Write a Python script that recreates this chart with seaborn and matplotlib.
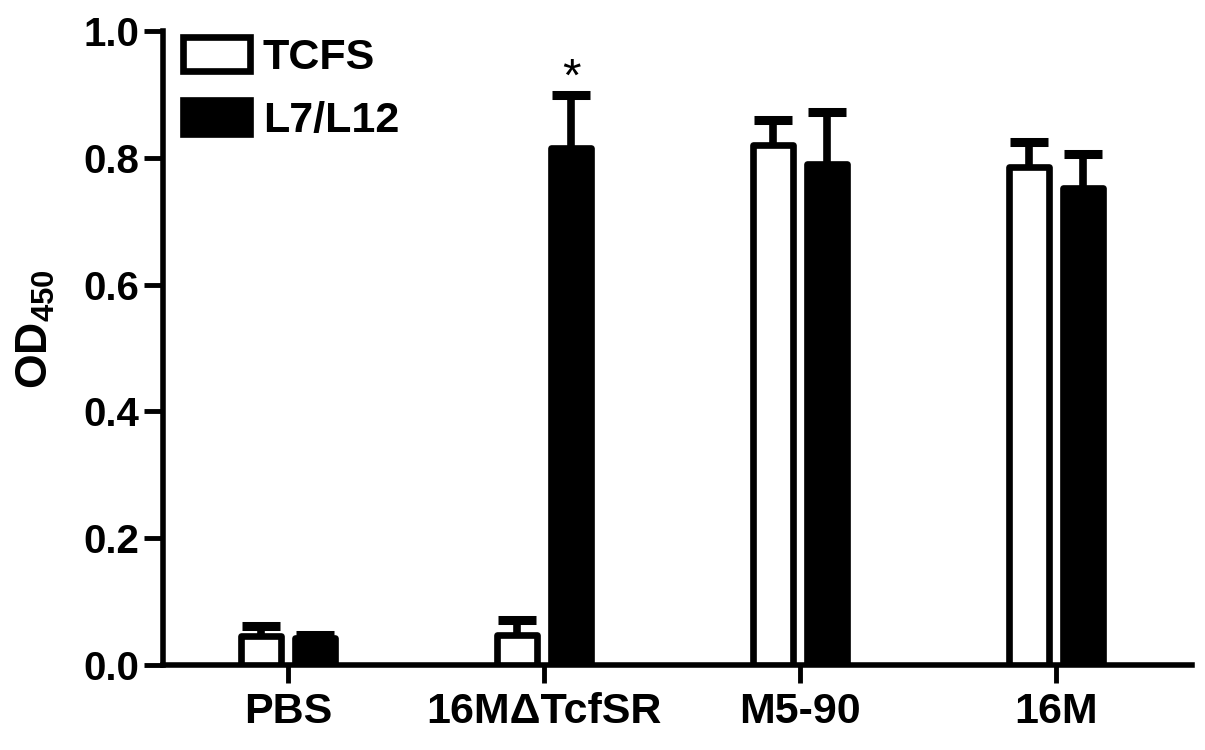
import pandas as pd
import matplotlib.pyplot as plt
import seaborn as sns
import numpy as np

groups = ["PBS", "16MΔTcfSR", "M5-90", "16M"]
tcfs_mean = [0.046, 0.047, 0.820, 0.785]
tcfs_err = [0.016, 0.025, 0.040, 0.040]
l7_mean = [0.043, 0.815, 0.790, 0.752]
l7_err = [0.004, 0.083, 0.082, 0.054]
series = ["TCFS", "L7/L12"]

sns.set_style("ticks")
plt.rcParams["font.family"] = ["Liberation Sans", "DejaVu Sans"]
plt.rcParams["font.weight"] = "bold"
plt.rcParams["text.color"] = "black"
plt.rcParams["axes.labelcolor"] = "black"
plt.rcParams["xtick.color"] = "black"
plt.rcParams["ytick.color"] = "black"
plt.rcParams["mathtext.fontset"] = "custom"
plt.rcParams["mathtext.rm"] = "Liberation Sans:bold"
plt.rcParams["mathtext.bf"] = "Liberation Sans:bold"

df = pd.DataFrame({
    "group": groups * 2,
    "series": [series[0]] * 4 + [series[1]] * 4,
    "od": tcfs_mean + l7_mean,
})

fig = plt.figure(figsize=(12.05, 7.5), dpi=100)
ax = fig.add_axes([0.135, 0.113, 0.854, 0.846])

sns.barplot(data=df, x="group", y="od", hue="series", order=groups, hue_order=series,
            palette={"TCFS": "white", "L7/L12": "black"}, edgecolor="black", linewidth=4.8,
            width=0.42, gap=0.26, errorbar=None, ax=ax, zorder=3)

# upper error bars only (no cap at the bar top)
errs = [tcfs_err, l7_err]
for cont, err in zip(ax.containers, errs):
    xs, tops = [], []
    for bar in cont:
        bar.set_joinstyle("round")
        xs.append(bar.get_x() + bar.get_width() / 2)
        tops.append(bar.get_height())
    eb = ax.errorbar(xs, tops, yerr=[np.zeros(len(err)), err], fmt="none", ecolor="black",
                     elinewidth=5.5, capsize=14, capthick=6.5, zorder=2)
    eb[1][0].remove()

# significance mark over the L7/L12 bar of the mutant
star_bar = ax.containers[1][1]
ax.text(star_bar.get_x() + star_bar.get_width() / 2, l7_mean[1] + l7_err[1] + 0.008, "*",
        ha="center", va="baseline", fontsize=34, fontweight="normal")

ax.set_ylim(0, 1.0)
ax.set_xlim(-0.49, 3.53)
ax.set_yticks(np.arange(0, 1.01, 0.2))
ax.set_yticklabels([f"{v:.1f}" for v in np.arange(0, 1.01, 0.2)])
ax.set_xlabel("")
ax.set_ylabel(r"$\mathbf{OD_{450}}$", fontsize=32)
ax.yaxis.set_label_coords(-0.103, 0.53)
ax.tick_params(axis="both", width=3.5, color="black")
ax.tick_params(axis="y", labelsize=29, length=14, pad=3)
ax.tick_params(axis="x", labelsize=31, length=13, pad=6)
for lab in ax.get_xticklabels() + ax.get_yticklabels():
    lab.set_fontweight("bold")
sns.despine(ax=ax)
for s in ["left", "bottom"]:
    ax.spines[s].set_linewidth(4)
    ax.spines[s].set_color("black")

handles, labels = ax.get_legend_handles_labels()
for h in handles:
    h.set_linewidth(4.8)
    h.set_edgecolor("black")
    h.set_joinstyle("round")
leg = ax.legend(handles, labels, loc="upper left", bbox_to_anchor=(0.02, 0.99),
                frameon=False, fontsize=31, handlelength=1.55, handleheight=0.85,
                labelspacing=0.5, handletextpad=0.3, borderpad=0, borderaxespad=0)
for t in leg.get_texts():
    t.set_fontweight("bold")

fig.savefig("out.png", dpi=100)
